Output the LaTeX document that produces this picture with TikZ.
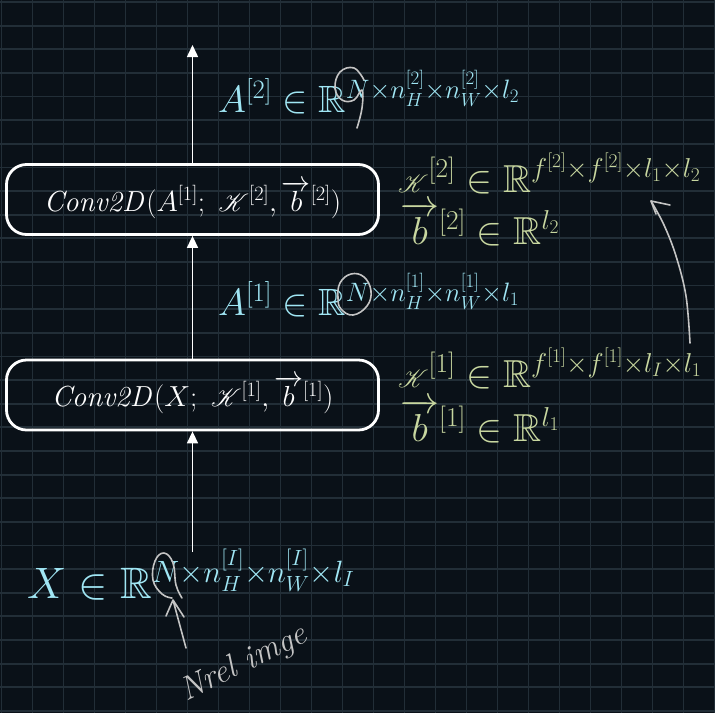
\documentclass[tikz,border=0pt]{standalone}
\usepackage{fix-cm}
\usepackage{amsmath,amssymb,amsfonts}
\usepackage{mathrsfs}
\usetikzlibrary{arrows.meta}
\definecolor{bgnavy}{HTML}{0A1118}
\definecolor{gridline}{HTML}{222E37}
\definecolor{dimblue}{HTML}{A0E6F4}
\definecolor{dimgreen}{HTML}{C8D7A0}
\definecolor{chalk}{HTML}{C4C4C4}
\tikzset{
  flow/.style={white, line width=1.5pt, -{Triangle[length=12pt,width=11pt]}},
  convbox/.style={draw=white, line width=2.8pt, rounded corners=20pt, minimum width=372pt, minimum height=70pt, text=white, font=\fontsize{29}{32}\selectfont},
  chalkline/.style={chalk, line width=1.6pt, line cap=round, line join=round}
}
\newcommand{\layerbox}[4]{\node[convbox] (#1) at ( #2 , #3 ) {#4};}
\newcommand{\shapelabel}[6]{\node[anchor=base west, inner sep=0pt, text=#4, font=\fontsize{#5}{40}\selectfont] (#1) at ( #2 , #3 ) {#6};}

\begin{document}
\begin{tikzpicture}[x=1pt,y=-1pt]
        \useasboundingbox (0,0) rectangle (715,713);
        \clip (0,0) rectangle (715,713);
        \fill[bgnavy] (0,0) rectangle (715,713);
        \foreach \i in {0,...,23} \draw[gridline, line width=1.8pt] (1.5+31*\i,0) -- (1.5+31*\i,713);
        \foreach \j in {0,...,30} \draw[gridline, line width=1.8pt] (0,2+23.63*\j) -- (715,2+23.63*\j);

        \layerbox{conv2}{192.5}{199.5}{$\mathit{Conv2D}(A^{[1]};\ \mathscr{K}^{[2]}, \overrightarrow{b}^{[2]})$}
        \layerbox{conv1}{192.5}{395}{$\mathit{Conv2D}(X;\ \mathscr{K}^{[1]}, \overrightarrow{b}^{[1]})$}

        \shapelabel{out2}{218}{112}{dimblue}{38}{$A^{[2]} \in \mathbb{R}^{N\times n_H^{[2]}\times n_W^{[2]}\times l_2}$}
        \shapelabel{out1}{218}{315}{dimblue}{38}{$A^{[1]} \in \mathbb{R}^{N\times n_H^{[1]}\times n_W^{[1]}\times l_1}$}
        \shapelabel{kern2}{398}{192}{dimgreen}{39}{$\mathscr{K}^{[2]} \in \mathbb{R}^{f^{[2]}\times f^{[2]}\times l_1\times l_2}$}
        \shapelabel{bias2}{400}{244}{dimgreen}{39}{$\overrightarrow{b}^{[2]} \in \mathbb{R}^{l_2}$}
        \shapelabel{kern1}{398}{387}{dimgreen}{39}{$\mathscr{K}^{[1]} \in \mathbb{R}^{f^{[1]}\times f^{[1]}\times l_I\times l_1}$}
        \shapelabel{bias1}{400}{441}{dimgreen}{39}{$\overrightarrow{b}^{[1]} \in \mathbb{R}^{l_1}$}
        \node[anchor=base west, inner sep=0pt, text=dimblue, font=\fontsize{44}{48}\selectfont] (input) at (27,598) {$X \in \mathbb{R}^{N\times n_H^{[I]}\times n_W^{[I]}\times l_I}$};

        \coordinate (top) at (192.5,45);
        \coordinate (xin) at (192.5,552);
        \draw[flow] (conv2.north) -- (top);
        \draw[flow] (conv1.north) -- (conv2.south);
        \draw[flow] (xin) -- (conv1.south);

        % hand notes
        \draw[chalkline] plot[smooth, tension=0.7] coordinates {(364,80) (354,68) (340,72) (335,88) (342,100) (354,100) (362,90) (362,108) (357,128)};
        \draw[chalkline] plot[smooth cycle, tension=0.7] coordinates {(338,298) (340,283) (351,274) (364,277) (371,291) (367,306) (353,315) (341,309)};
        \draw[chalkline] plot[smooth, tension=0.7] coordinates {(182,598) (176,585) (173,563) (164,553) (155,561) (153,580) (162,594) (172,598)};
        \coordinate (notetip) at (173,600);
        \coordinate (notetail) at (186,648);
        \draw[chalkline] (notetail) -- (notetip) -- (166,616) (notetip) -- (184,617);
        \coordinate (kerntip) at (651,201);
        \draw[chalkline] plot[smooth, tension=0.6] coordinates {(690,343) (686,296) (676,256) (664,225) (kerntip)};
        \draw[chalkline] (kerntip) -- (670,205) (kerntip) -- (656,214);
        \node[text=chalk, rotate=26, font=\fontsize{33}{35}\selectfont\itshape] (note) at (244,664) {Nrel imge};
\end{tikzpicture}
\end{document}
